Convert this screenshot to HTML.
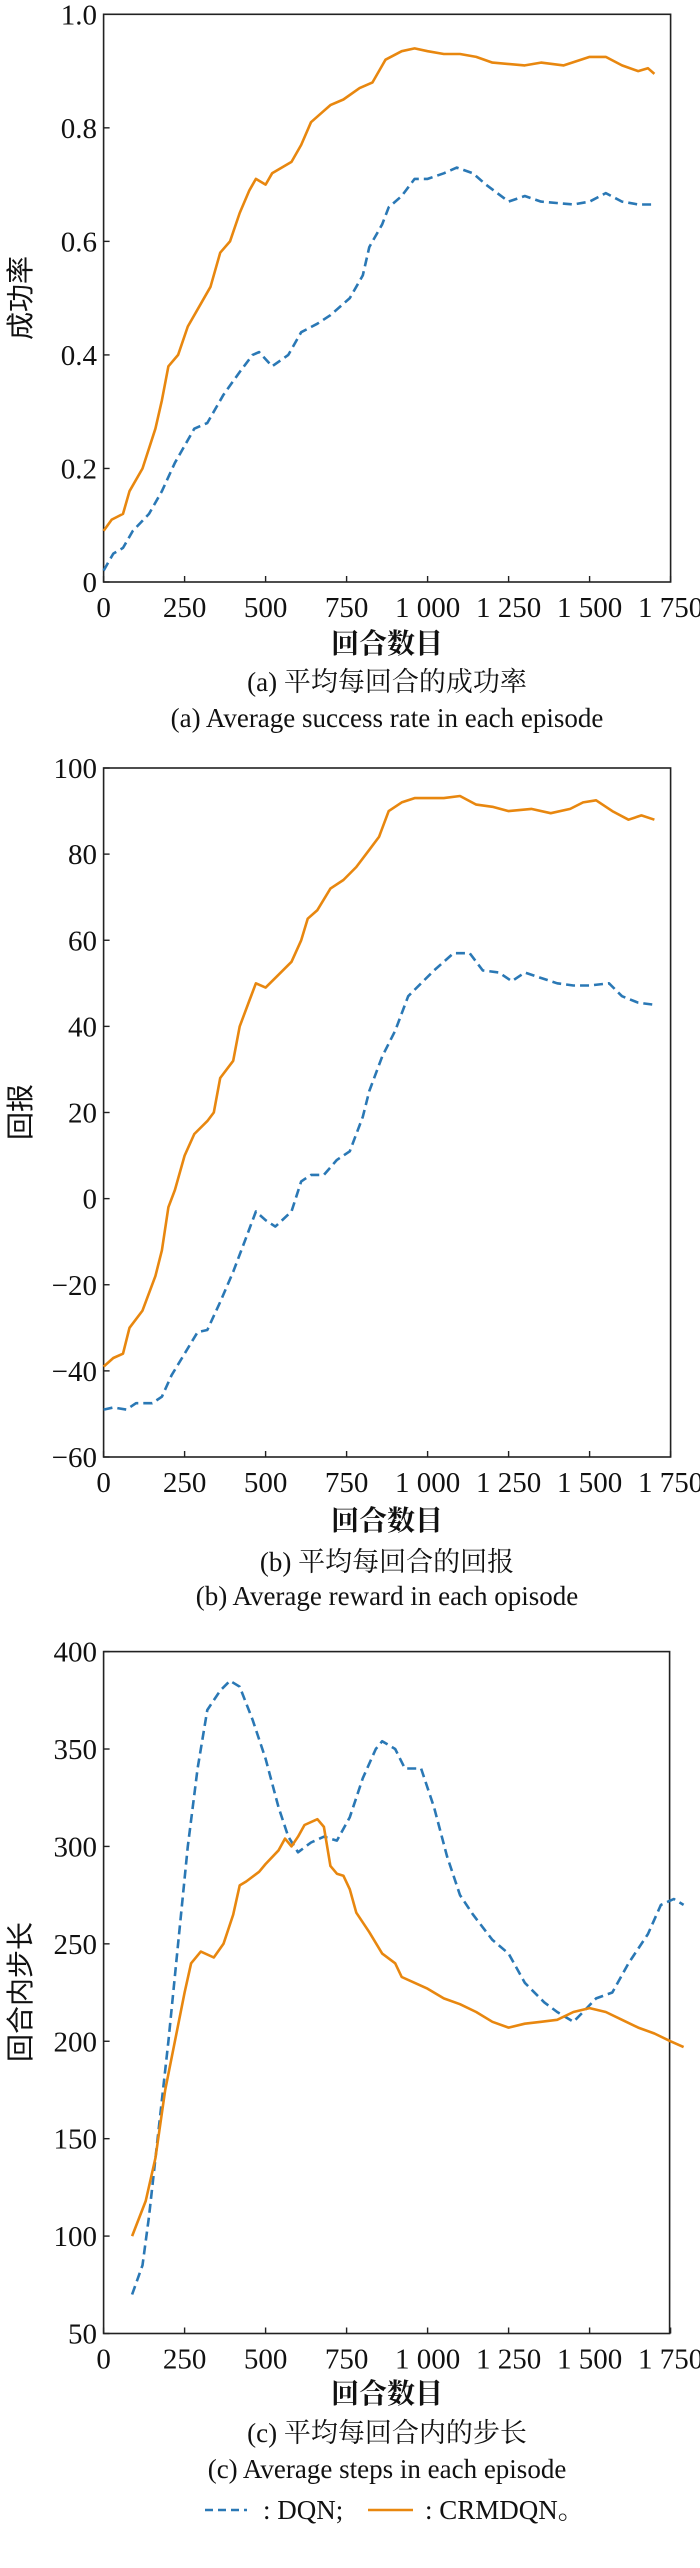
<!DOCTYPE html>
<html><head><meta charset="utf-8">
<style>
html,body{margin:0;padding:0;background:#fff;}
svg text{font-family:"Liberation Serif","Noto Serif CJK SC",serif;fill:#111;}
</style></head>
<body>
<svg id="s" width="700" height="2563" viewBox="0 0 700 2563" xmlns="http://www.w3.org/2000/svg">
<g id="axes" stroke="#222" stroke-width="1.6" fill="none">
<rect x="103.6" y="14.3" width="567" height="567.7"/>
<rect x="103.6" y="768" width="567" height="689"/>
<rect x="103.6" y="1651.6" width="566" height="681.9"/>
</g>
<g id="ticks" stroke="#222" stroke-width="1.4"></g>
<g id="lines" fill="none" stroke-width="2.6" stroke-linejoin="round"></g>
<g id="labels" font-size="29"></g>

<text x="30" y="298" font-size="28" text-anchor="middle" transform="rotate(-90 30 298)" style="font-family:'Noto Sans CJK SC',sans-serif">成功率</text>
<text x="30" y="1112" font-size="28" text-anchor="middle" transform="rotate(-90 30 1112)" style="font-family:'Noto Sans CJK SC',sans-serif">回报</text>
<text x="30" y="1992" font-size="28" text-anchor="middle" transform="rotate(-90 30 1992)" style="font-family:'Noto Sans CJK SC',sans-serif">回合内步长</text>

<g font-size="28" text-anchor="middle" font-weight="bold">
<text x="387" y="653">回合数目</text>
<text x="387" y="1530">回合数目</text>
<text x="387" y="2403">回合数目</text>
</g>
<g font-size="27" text-anchor="middle">
<text x="387" y="691">(a) 平均每回合的成功率</text>
<text x="387" y="727">(a) Average success rate in each episode</text>
<text x="387" y="1571">(b) 平均每回合的回报</text>
<text x="387" y="1605">(b) Average reward in each opisode</text>
<text x="387" y="2442">(c) 平均每回合内的步长</text>
<text x="387" y="2478">(c) Average steps in each episode</text>
<text x="263" y="2519" text-anchor="start">: DQN;</text>
<text x="425" y="2519" text-anchor="start">: CRMDQN。</text>
</g>
<line x1="205" y1="2510" x2="247" y2="2510" stroke="#2a78b5" stroke-width="2.6" stroke-dasharray="8,5"/>
<line x1="368" y1="2510" x2="413" y2="2510" stroke="#e8870f" stroke-width="2.6"/>
</svg>
<script>
var NS="http://www.w3.org/2000/svg";
function el(p,t,a){var e=document.createElementNS(NS,t);for(var k in a)e.setAttribute(k,a[k]);p.appendChild(e);return e;}
var L=document.getElementById('lines'),T=document.getElementById('ticks'),B=document.getElementById('labels');
var X0=103.6,SX=0.324;
var charts=[
{bot:582,top:14.3,ymin:0,ymax:1,yt:[[0,"0"],[0.2,"0.2"],[0.4,"0.4"],[0.6,"0.6"],[0.8,"0.8"],[1,"1.0"]],
o:[[0,0.09],[25,0.11],[60,0.12],[80,0.16],[120,0.2],[160,0.27],[180,0.32],[200,0.38],[230,0.40],[260,0.45],[300,0.49],[330,0.52],[360,0.58],[390,0.60],[420,0.65],[450,0.69],[470,0.71],[500,0.70],[520,0.72],[580,0.74],[610,0.77],[640,0.81],[680,0.83],[700,0.84],[740,0.85],[790,0.87],[830,0.88],[870,0.92],[920,0.935],[960,0.94],[1000,0.935],[1050,0.93],[1100,0.93],[1150,0.925],[1200,0.915],[1300,0.91],[1350,0.915],[1420,0.91],[1500,0.925],[1550,0.925],[1600,0.91],[1650,0.90],[1680,0.905],[1700,0.895]],
b:[[0,0.02],[30,0.05],[60,0.06],[90,0.09],[140,0.12],[180,0.16],[220,0.21],[280,0.27],[320,0.28],[370,0.33],[420,0.37],[460,0.40],[480,0.405],[520,0.38],[570,0.40],[610,0.44],[660,0.455],[700,0.47],[760,0.50],[800,0.54],[820,0.59],[860,0.63],[880,0.66],[920,0.68],[960,0.71],[1000,0.71],[1050,0.72],[1090,0.73],[1140,0.72],[1180,0.70],[1250,0.67],[1300,0.68],[1350,0.67],[1450,0.665],[1500,0.67],[1550,0.685],[1600,0.67],[1650,0.665],[1700,0.665]]},
{bot:1457,top:768,ymin:-60,ymax:100,yt:[[-60,"\u221260"],[-40,"\u221240"],[-20,"\u221220"],[0,"0"],[20,"20"],[40,"40"],[60,"60"],[80,"80"],[100,"100"]],
o:[[0,-39],[30,-37],[60,-36],[80,-30],[120,-26],[160,-18],[180,-12],[200,-2],[220,2],[250,10],[280,15],[320,18],[340,20],[360,28],[400,32],[420,40],[450,46],[470,50],[500,49],[540,52],[580,55],[610,60],[630,65],[660,67],[700,72],[740,74],[780,77],[820,81],[850,84],[880,90],[920,92],[960,93],[1000,93],[1050,93],[1100,93.5],[1150,91.5],[1200,91],[1250,90],[1320,90.5],[1380,89.5],[1440,90.5],[1480,92],[1520,92.5],[1570,90],[1620,88],[1660,89],[1700,88]],
b:[[0,-49],[30,-48.5],[70,-49],[100,-47.5],[150,-47.5],[180,-46],[210,-41],[250,-36],[290,-31],[320,-30.5],[360,-24],[400,-17],[440,-9],[470,-3],[500,-5],[530,-6.5],[580,-3],[610,4],[640,5.5],[680,5.5],[720,9],[760,11],[800,19],[820,25],[860,33],[900,39],[940,47],[980,50],[1020,53],[1080,57],[1130,57],[1170,53],[1220,52.5],[1260,50.5],[1300,52.5],[1340,51.5],[1400,50],[1450,49.5],[1500,49.5],[1560,50],[1600,47],[1650,45.5],[1700,45]]},
{bot:2333.5,top:1651.6,ymin:50,ymax:400,yt:[[50,"50"],[100,"100"],[150,"150"],[200,"200"],[250,"250"],[300,"300"],[350,"350"],[400,"400"]],
o:[[88,100],[130,118],[160,140],[190,175],[220,200],[250,225],[270,240],[300,246],[340,243],[370,250],[400,265],[420,280],[440,282],[480,287],[500,291],[540,298],[560,304],[580,300],[600,305],[620,311],[660,314],[680,310],[700,290],[720,286],[740,285],[760,278],[780,266],[820,256],[860,245],[900,240],[920,233],[960,230],[1000,227],[1050,222],[1100,219],[1150,215],[1200,210],[1250,207],[1300,209],[1350,210],[1400,211],[1450,215],[1500,217],[1550,215],[1600,211],[1650,207],[1700,204],[1750,200],[1790,197]],
b:[[88,70],[120,85],[140,110],[170,155],[200,200],[230,250],[260,300],[290,340],[320,370],[360,380],[390,385],[420,382],[460,365],[500,345],[540,320],[570,305],[600,297],[640,302],[680,305],[720,303],[760,315],[800,335],[840,350],[860,354],[900,350],[930,340],[980,340],[1020,320],[1060,295],[1100,275],[1140,265],[1200,252],[1250,245],[1300,230],[1360,220],[1400,215],[1450,210],[1480,215],[1520,222],[1570,225],[1620,240],[1680,255],[1720,270],[1760,273],[1790,270]]}
];
charts.forEach(function(c){
  var k=(c.bot-c.top)/(c.ymax-c.ymin);
  function py(v){return c.bot-(v-c.ymin)*k;}
  function px(v){return X0+v*SX;}
  function pts(a){return a.map(function(p){return px(p[0]).toFixed(1)+","+py(p[1]).toFixed(1);}).join(" ");}
  el(L,'polyline',{points:pts(c.b),stroke:'#2a78b5','stroke-dasharray':'9,5'});
  el(L,'polyline',{points:pts(c.o),stroke:'#e8870f'});
  for(var i=0;i<=7;i++){var x=px(i*250);
    el(T,'line',{x1:x,y1:c.bot,x2:x,y2:c.bot-6});
    var t=el(B,'text',{x:x,y:c.bot+35,'text-anchor':'middle'});
    t.textContent=(i==0?"0":(i*250>=1000?("1 "+String(i*250-1000).padStart(3,"0")):String(i*250)));}
  c.yt.forEach(function(q){var y=py(q[0]);
    el(T,'line',{x1:X0,y1:y,x2:X0+6,y2:y});
    var t=el(B,'text',{x:97,y:y+10,'text-anchor':'end'});t.textContent=q[1];});
});
</script>
</body></html>
